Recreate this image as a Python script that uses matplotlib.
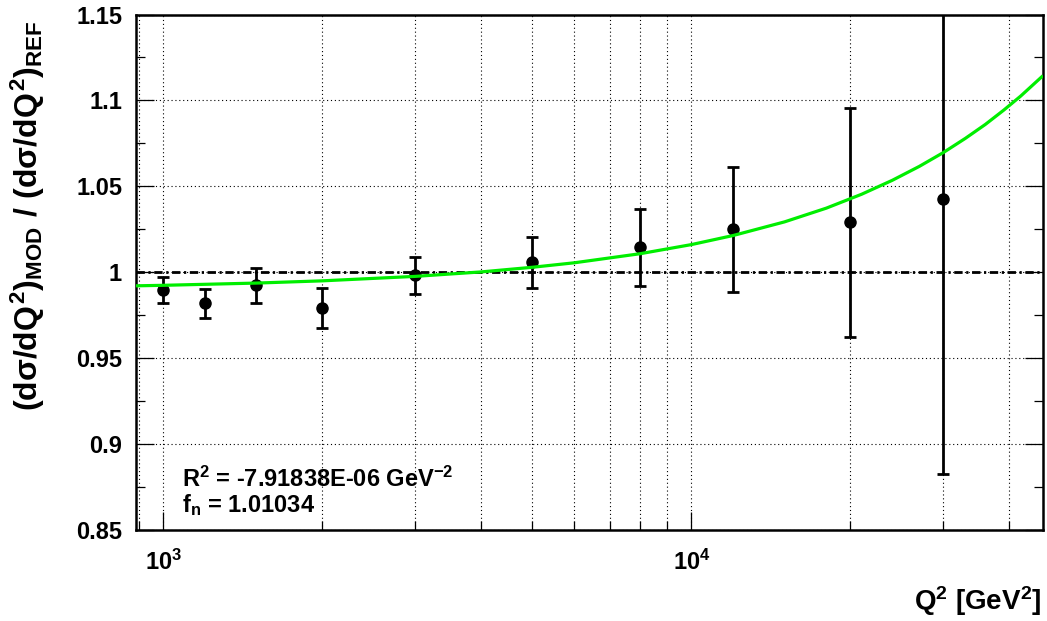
import numpy as np
import matplotlib
matplotlib.use('Agg')
import matplotlib.pyplot as plt
from matplotlib.ticker import FixedLocator, FixedFormatter, LogLocator, NullFormatter

plt.rcParams['font.family'] = ['Liberation Sans', 'DejaVu Sans']
plt.rcParams['font.weight'] = 'bold'
plt.rcParams['mathtext.fontset'] = 'custom'
plt.rcParams['mathtext.rm'] = 'Liberation Sans:bold'
plt.rcParams['mathtext.bf'] = 'Liberation Sans:bold'
plt.rcParams['mathtext.it'] = 'Liberation Sans:bold'
plt.rcParams['mathtext.sf'] = 'Liberation Sans:bold'

# ---- data ----
q2 = [1000, 1200, 1500, 2000, 3000, 5000, 8000, 12000, 20000, 30000]
ratio = [0.9897, 0.9819, 0.9924, 0.9794, 0.9982, 1.0059, 1.0145, 1.0250, 1.0290, 1.0425]
ratio_err = [0.0075, 0.0085, 0.0102, 0.0117, 0.0107, 0.0148, 0.0223, 0.0363, 0.0668, 0.1600]

fit_q2 = [888, 1000, 1500, 2000, 3000, 4000, 5000, 6000, 8000, 10000, 12000,
          15000, 18000, 21000, 24000, 27000, 30000, 33000, 36000, 39000, 42000, 46300]
fit_ratio = [0.9921, 0.9924, 0.9937, 0.9950, 0.9976, 1.0002, 1.0029, 1.0055, 1.0108,
             1.0161, 1.0214, 1.0293, 1.0373, 1.0454, 1.0535, 1.0616, 1.0697, 1.0779,
             1.0860, 1.0943, 1.1025, 1.1144]

ytick_vals = [0.85, 0.90, 0.95, 1.00, 1.05, 1.10, 1.15]
ytick_labels = ['0.85', '0.9', '0.95', '1', '1.05', '1.1', '1.15']
yminor_vals = [0.875, 0.925, 0.975, 1.025, 1.075, 1.125]
xtick_vals = [1000, 10000]
xtick_labels = [r'$10^{3}$', r'$10^{4}$']

fit_text = ['R$^{2}$ = -7.91838E-06 GeV$^{-2}$', 'f$_{n}$ = 1.01034']

W, H = 1047, 621
fig = plt.figure(figsize=(W / 100, H / 100), dpi=100)
L, R, T, B = 136, 1043, 14.5, 530
ax = fig.add_axes([L / W, 1 - B / H, (R - L) / W, (B - T) / H])

ax.set_xscale('log')
ax.set_xlim(888, 46300)
ax.set_ylim(0.85, 1.15)

grid_ls = (0, (1, 2.5))
ax.xaxis.set_major_locator(FixedLocator(xtick_vals))
ax.xaxis.set_major_formatter(FixedFormatter(xtick_labels))
ax.xaxis.set_minor_locator(LogLocator(base=10, subs=np.arange(2, 10), numticks=20))
ax.xaxis.set_minor_formatter(NullFormatter())
ax.yaxis.set_major_locator(FixedLocator(ytick_vals))
ax.yaxis.set_major_formatter(FixedFormatter(ytick_labels))
ax.yaxis.set_minor_locator(FixedLocator(yminor_vals))

ax.grid(True, which='both', axis='x', color='black', linestyle=grid_ls, linewidth=0.8)
ax.grid(True, which='major', axis='y', color='black', linestyle=grid_ls, linewidth=0.8)
ax.set_axisbelow(True)

ax.tick_params(axis='both', which='both', direction='in', color='black', width=0.9)
ax.tick_params(axis='y', which='both', left=True, right=True)
ax.tick_params(axis='x', which='both', bottom=True, top=False)
ax.tick_params(which='major', length=13)
ax.tick_params(which='minor', length=6.5)
ax.tick_params(axis='y', which='major', labelsize=17, pad=10)
ax.tick_params(axis='x', which='major', labelsize=17, pad=14)
for lab in ax.get_xticklabels() + ax.get_yticklabels():
    lab.set_fontweight('bold')

for s in ax.spines.values():
    s.set_linewidth(1.8)
    s.set_color('black')

ax.axhline(1.0, color='black', linewidth=2.0, linestyle=(0, (3, 1.3, 0.8, 1.3)), zorder=2)

ax.errorbar(q2, ratio, yerr=ratio_err, fmt='o', color='black', markersize=8,
            elinewidth=2.0, capsize=4.5, capthick=2.0, zorder=3)

ax.plot(fit_q2, fit_ratio, color='#00ee00', linewidth=2.3, zorder=4, solid_capstyle='butt')

fig.text(182 / W, 1 - 487 / H, fit_text[0], fontsize=17, fontweight='bold', ha='left', va='baseline')
fig.text(182 / W, 1 - 512 / H, fit_text[1], fontsize=17, fontweight='bold', ha='left', va='baseline')

fig.text(1041 / W, 1 - 610 / H, r'Q$^{2}$ [GeV$^{2}$]', fontsize=20, fontweight='bold',
         ha='right', va='baseline')

fig.text(28 / W, 1 - 20 / H, r'$(d\sigma/dQ^{2})_{MOD}\ /\ (d\sigma/dQ^{2})_{REF}$',
         fontsize=23, rotation=90, ha='center', va='top')

fig.savefig('out.png', dpi=100)
